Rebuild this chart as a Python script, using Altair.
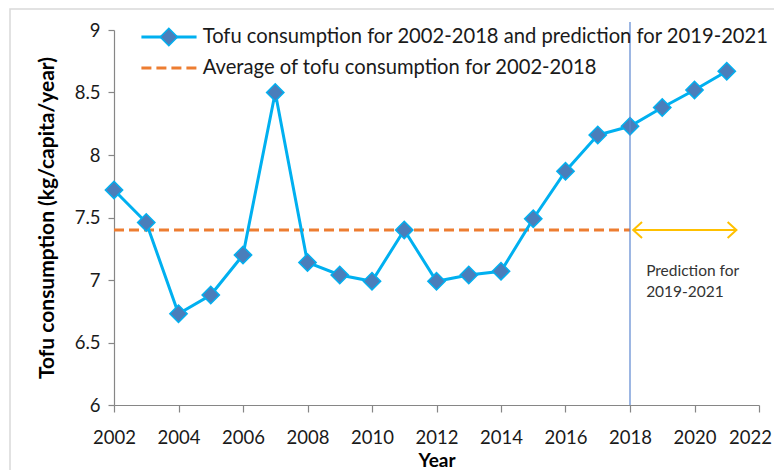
import altair as alt
import pandas as pd

# ---- data ----
years = list(range(2002, 2022))
consumption = [7.72, 7.46, 6.73, 6.88, 7.20, 8.50, 7.14, 7.04, 6.99, 7.40,
               6.99, 7.04, 7.07, 7.49, 7.87, 8.16, 8.23, 8.38, 8.52, 8.67]
avg_value = 7.40
avg_start, avg_end = 2002, 2018
cutoff_year = 2018
arrow_start, arrow_end = 2018.1, 2021.3
x_ticks = list(range(2002, 2023, 2))
y_ticks = [6, 6.5, 7, 7.5, 8, 8.5, 9]
legend_labels = ["Tofu consumption for 2002-2018 and prediction for 2019-2021",
                 "Average of tofu consumption for 2002-2018"]
annotation_lines = ["Prediction for", "2019-2021"]

FONT = "Lato"
LINE_BLUE = "#00B0F0"
MARK_BLUE = "#4A7EBB"
ORANGE = "#ED7D31"
GOLD = "#FFC000"
CUT_BLUE = "#5B86D0"

df = pd.DataFrame({"year": years, "value": consumption})

xscale = alt.Scale(domain=[2002, 2022], nice=False, zero=False)
yscale = alt.Scale(domain=[6, 9], nice=False, zero=False)

xaxis = alt.Axis(values=x_ticks, format="d", title="Year", grid=False,
                 tickSize=7, labelPadding=16, labelFlush=False, labelOverlap=False,
                 labelOffset={"condition": {"test": "datum.value == 2022", "value": -9},
                              "value": 0},
                 titleBaseline="middle", titleY=55)
yaxis = alt.Axis(values=y_ticks, format="~g",
                 title="Tofu consumption (kg/capita/year)", grid=False,
                 tickSize=6, labelPadding=8, labelFlush=False, labelOverlap=False,
                 titleX=-67, titleY=187.5,
                 titleBaseline="middle", titleAngle=-90, titleFontSize=21)

X = alt.X("year:Q", scale=xscale, axis=xaxis)
Y = alt.Y("value:Q", scale=yscale, axis=yaxis)

frame = alt.Chart(pd.DataFrame({"k": [0]})).mark_rect(
    filled=False, stroke="#D9D9D9", strokeWidth=1.5, clip=False
).encode(x=alt.value(-104), x2=alt.value(720), y=alt.value(-21), y2=alt.value(520))

line = alt.Chart(df).mark_line(color=LINE_BLUE, strokeWidth=3).encode(x=X, y=Y)
points = alt.Chart(df).mark_point(
    shape="diamond", filled=True, fill=MARK_BLUE, stroke=LINE_BLUE,
    strokeWidth=1.5, size=300, opacity=1
).encode(x=X, y=Y)

avg_df = pd.DataFrame({"year": [avg_start], "year2": [avg_end], "value": [avg_value]})
avg_rule = alt.Chart(avg_df).mark_rule(
    color=ORANGE, strokeWidth=3, strokeDash=[10, 5]
).encode(x=X, x2="year2:Q", y=Y)

cut_df = pd.DataFrame({"year": [cutoff_year], "value": [6], "value2": [9.065]})
cut_rule = alt.Chart(cut_df).mark_rule(color=CUT_BLUE, strokeWidth=1.2, clip=False).encode(
    x=X, y=Y, y2="value2:Q")

arrow_df = pd.DataFrame({"year": [arrow_start], "year2": [arrow_end], "value": [avg_value]})
arrow_rule = alt.Chart(arrow_df).mark_rule(color=GOLD, strokeWidth=2).encode(
    x=X, x2="year2:Q", y=Y)
head_l = alt.Chart(pd.DataFrame({"year": [arrow_start], "value": [avg_value]})).mark_point(
    shape="M 1.1 -1 L 0 0 L 1.1 1", filled=False, stroke=GOLD, strokeWidth=2,
    size=256, opacity=1).encode(x=X, y=Y)
head_r = alt.Chart(pd.DataFrame({"year": [arrow_end], "value": [avg_value]})).mark_point(
    shape="M -1.1 -1 L 0 0 L -1.1 1", filled=False, stroke=GOLD, strokeWidth=2,
    size=256, opacity=1).encode(x=X, y=Y)

ann_df = pd.DataFrame({"year": [2018.5, 2018.5], "value": [7.07, 6.905],
                       "label": annotation_lines})
ann = alt.Chart(ann_df).mark_text(
    align="left", baseline="middle", font=FONT, fontSize=15.5, color="#333333"
).encode(x=X, y=Y, text="label:N")

# legend drawn in data coordinates
leg_line_df = pd.DataFrame({"year": [2002.85], "year2": [2004.56], "value": [8.944]})
leg_line = alt.Chart(leg_line_df).mark_rule(color=LINE_BLUE, strokeWidth=3, clip=False).encode(
    x=X, x2="year2:Q", y=Y)
leg_pt = alt.Chart(pd.DataFrame({"year": [2003.7], "value": [8.944]})).mark_point(
    shape="diamond", filled=True, fill=MARK_BLUE, stroke=LINE_BLUE,
    strokeWidth=1.5, size=300, opacity=1, clip=False).encode(x=X, y=Y)
leg_dash_df = pd.DataFrame({"year": [2002.85], "year2": [2004.56], "value": [8.696]})
leg_dash = alt.Chart(leg_dash_df).mark_rule(color=ORANGE, strokeWidth=3, strokeDash=[10, 5]).encode(
    x=X, x2="year2:Q", y=Y)
leg_text_df = pd.DataFrame({"year": [2004.75, 2004.75], "value": [8.944, 8.696],
                            "label": legend_labels})
leg_text = alt.Chart(leg_text_df).mark_text(
    align="left", baseline="middle", font=FONT, fontSize=20.2, color="#1a1a1a", clip=False
).encode(x=X, y=Y, text="label:N")

chart = alt.layer(
    frame, avg_rule, line, points, cut_rule, arrow_rule, head_l, head_r, ann,
    leg_line, leg_pt, leg_dash, leg_text
).properties(
    width=645, height=375,
    autosize=alt.AutoSizeParams(type="none"),
    padding={"left": 106, "top": 22, "right": 15, "bottom": 65},
).configure_view(stroke=None).configure_axis(
    domainColor="#868686", tickColor="#868686", domainWidth=1.2, tickWidth=1.2,
    labelFont=FONT, labelFontSize=18.5, labelColor="#1a1a1a",
    titleFont=FONT, titleFontSize=19, titleFontWeight="bold", titleColor="#000000"
)

chart.save("out.html", embed_options={"renderer": "svg", "actions": False})
